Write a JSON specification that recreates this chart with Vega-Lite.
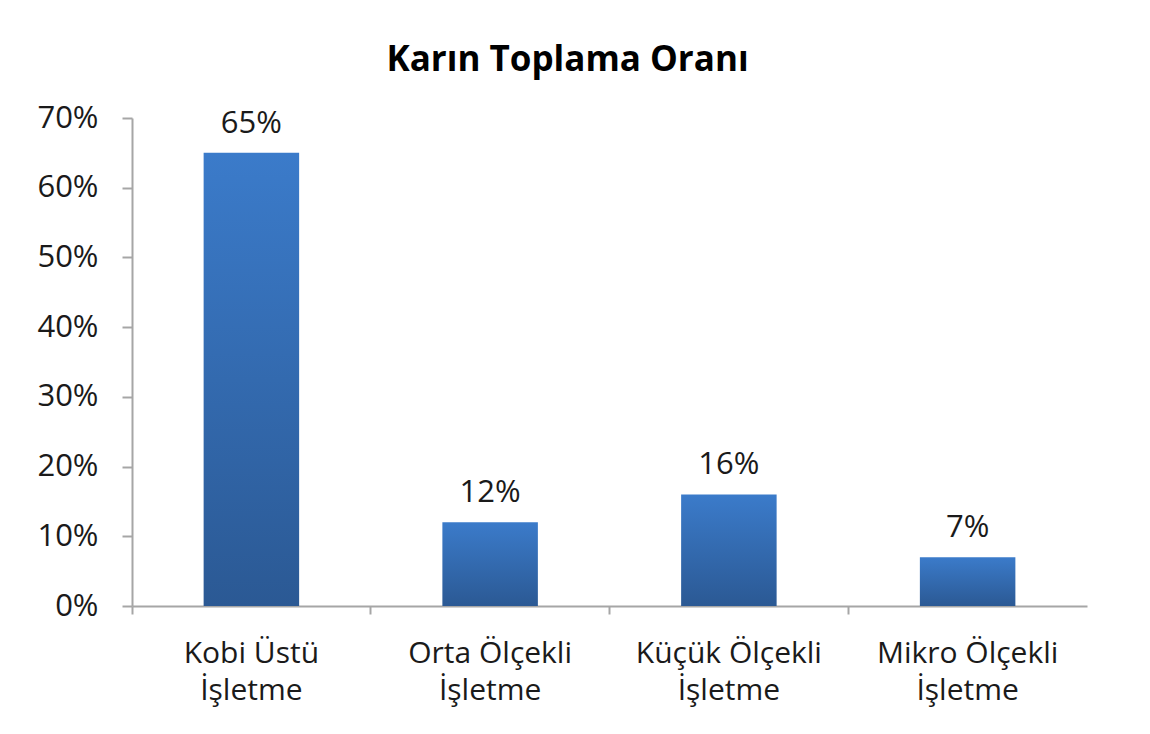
{
  "$schema": "https://vega.github.io/schema/vega-lite/v6.json",
  "width": 955,
  "height": 488,
  "autosize": {"type": "none"},
  "padding": {"left": 132, "top": 118, "right": 63, "bottom": 128},
  "background": "white",
  "title": {
    "text": "Karın Toplama Oranı",
    "font": "Open Sans",
    "fontSize": 35,
    "fontWeight": "bold",
    "color": "#000000",
    "anchor": "middle",
    "dx": -42,
    "offset": 24
  },
  "data": {
    "values": [
      {"kategori": "Kobi Üstü İşletme", "oran": 0.65},
      {"kategori": "Orta Ölçekli İşletme", "oran": 0.12},
      {"kategori": "Küçük Ölçekli İşletme", "oran": 0.16},
      {"kategori": "Mikro Ölçekli İşletme", "oran": 0.07}
    ]
  },
  "encoding": {
    "x": {
      "field": "kategori",
      "type": "nominal",
      "sort": null,
      "scale": {"paddingInner": 0, "paddingOuter": 0},
      "axis": {
        "title": null,
        "labelAngle": 0,
        "bandPosition": 0,
        "labelFont": "Open Sans",
        "labelFontSize": 30,
        "labelColor": "#1a1a1a",
        "labelPadding": 24,
        "labelLineHeight": 37,
        "labelLimit": 400,
        "labelExpr": "[slice(datum.value, 0, lastindexof(datum.value, ' ')), slice(datum.value, lastindexof(datum.value, ' ') + 1)]",
        "domainColor": "#a6a6a6",
        "domainWidth": 2,
        "tickColor": "#a6a6a6",
        "tickWidth": 2,
        "tickSize": 8,
        "grid": false
      }
    },
    "y": {
      "field": "oran",
      "type": "quantitative",
      "scale": {"domain": [0, 0.7], "nice": false},
      "axis": {
        "title": null,
        "values": [0, 0.1, 0.2, 0.3, 0.4, 0.5, 0.6, 0.7],
        "format": ".0%",
        "labelFont": "Open Sans",
        "labelFontSize": 31,
        "labelColor": "#1a1a1a",
        "labelPadding": 24,
        "domainColor": "#a6a6a6",
        "domainWidth": 2,
        "tickColor": "#a6a6a6",
        "tickWidth": 2,
        "tickSize": 10,
        "grid": false
      }
    }
  },
  "layer": [
    {
      "mark": {
        "type": "bar",
        "width": {"band": 0.4},
        "color": {
          "gradient": "linear",
          "x1": 0, "y1": 0, "x2": 0, "y2": 1,
          "stops": [
            {"offset": 0, "color": "#3b7bca"},
            {"offset": 1, "color": "#2b5994"}
          ]
        }
      }
    },
    {
      "mark": {
        "type": "text",
        "baseline": "bottom",
        "dy": -13,
        "font": "Open Sans",
        "fontSize": 31,
        "color": "#1a1a1a"
      },
      "encoding": {
        "text": {"field": "oran", "type": "quantitative", "format": ".0%"}
      }
    }
  ],
  "config": {
    "view": {"stroke": null}
  }
}
